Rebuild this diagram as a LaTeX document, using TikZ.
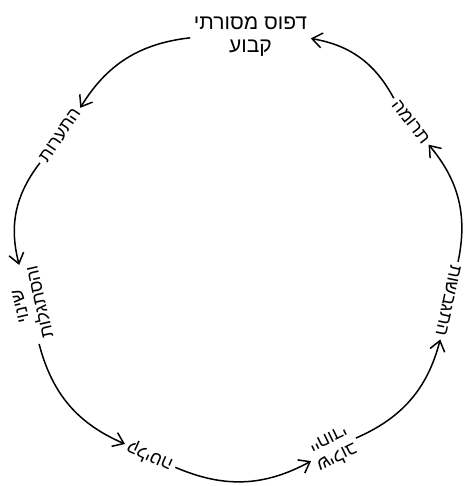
\documentclass[tikz,border=0pt]{standalone}
\usepackage{fontspec}
\setmainfont{Liberation Sans}[Script=Hebrew]
\TeXXeTstate=1
\usetikzlibrary{arrows.meta}
\newcommand{\heb}[1]{\beginR #1\endR}

\begin{document}
\begin{tikzpicture}[>={Straight Barb[length=10pt,width=15pt]}, line width=1.5pt, every node/.style={font=\fontsize{18}{20}\selectfont}]
\tikzstyle{stage}=[align=center, inner sep=3pt]
\useasboundingbox (0,0) rectangle (470pt,486pt);
\coordinate (c) at (239pt,230pt);
\node[stage, font=\fontsize{21}{23}\selectfont] (pattern) at ([shift={(87:220pt)}]c) {\heb{דפוס מסורתי}\\\heb{קבוע}};
\node[stage, rotate=56] (absorb) at ([shift={(146:216pt)}]c) {\heb{התערות}};
\node[stage, rotate=103] (adapt) at ([shift={(193:214pt)}]c) {\heb{שינוי}\\\heb{והסתגלות}};
\node[stage, rotate=156] (intake) at ([shift={(246:219pt)}]c) {\heb{קליטה}};
\node[stage, rotate=206] (blend) at ([shift={(296:215pt)}]c) {\heb{שילוב}\\\heb{ייחודי}};
\node[stage, rotate=258] (shape) at ([shift={(348:214pt)}]c) {\heb{התגבשות}};
\node[stage, rotate=308] (gift) at ([shift={(38:218pt)}]c) {\heb{תרומה}};
\draw[->] (pattern) to[bend right=26] (absorb);
\draw[->] (absorb) to[bend right=26] (adapt);
\draw[->] (adapt) to[bend right=26] (intake);
\draw[->] (intake) to[bend right=26] (blend);
\draw[->] (blend) to[bend right=26] (shape);
\draw[->] (shape) to[bend right=26] (gift);
\draw[->] (gift) to[bend right=26] (pattern);
\end{tikzpicture}
\end{document}
